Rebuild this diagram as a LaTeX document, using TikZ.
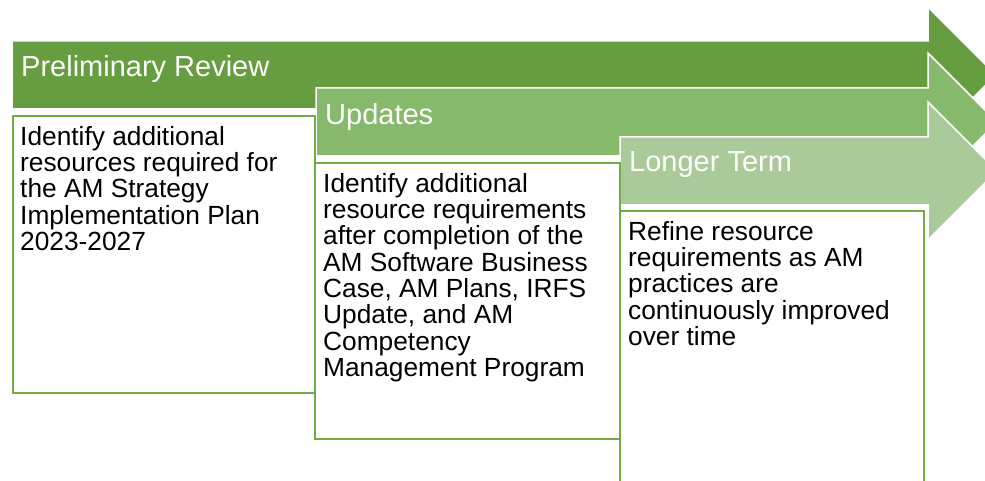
\documentclass[tikz,border=0pt]{standalone}
\usepackage{fontspec}
\setmainfont{Liberation Sans}
\usepackage{xcolor}
\definecolor{stageone}{RGB}{102,157,64}
\definecolor{stagetwo}{RGB}{135,185,108}
\definecolor{stagethree}{RGB}{170,202,153}
\definecolor{boxline}{RGB}{112,173,71}
\usepackage{tikz}
\usetikzlibrary{positioning}
\tikzstyle{arrowshape} = [draw=white, line width=1.5pt, line join=miter]
\tikzstyle{heading} = [anchor=base west, inner sep=0pt, text=white, font=\fontsize{29}{29}\selectfont]
\tikzstyle{frame} = [rectangle, draw=boxline, line width=2pt, fill=white, anchor=north west, inner sep=0pt]
\tikzstyle{bodytext} = [anchor=north west, align=left, inner sep=0pt, font=\fontsize{26.3}{26.3}\selectfont]

\begin{document}
\begin{tikzpicture}[x=1pt, y=-1pt]
    \useasboundingbox (0,0) rectangle (985,481);
    \clip (0,0) rectangle (985,481);

    \path[arrowshape, fill=stageone] (12,41) -- (928,41) -- (928,7) -- (996,75) -- (928,143) -- (928,109) -- (12,109) -- cycle;
    \path[arrowshape, fill=stagetwo] (316,88) -- (928,88) -- (928,53) -- (997,122) -- (928,191) -- (928,156) -- (316,156) -- cycle;
    \path[arrowshape, fill=stagethree] (620,137) -- (928,137) -- (928,102) -- (997,171) -- (928,240) -- (928,205) -- (620,205) -- cycle;

    \node[heading] (prelim) at (21,77) {Preliminary Review};
    \node[heading] (updates) at (325,125) {Updates};
    \node[heading] (longer) at (629,172) {Longer Term};

    \node[frame, minimum width=302pt, minimum height=277pt] (prelimbox) at (12,115) {};
    \node[frame, minimum width=305pt, minimum height=276pt] (updatesbox) at (314,162) {};
    \node[frame, minimum width=304pt, minimum height=290pt] (longerbox) at (619,210) {};

    \node[bodytext] (prelimtext) at ([xshift=8pt, yshift=-11pt]prelimbox.north west) {Identify additional\\resources required for\\the AM Strategy\\Implementation Plan\\2023-2027};
    \node[bodytext] (updatestext) at ([xshift=9pt, yshift=-11pt]updatesbox.north west) {Identify additional\\resource requirements\\after completion of the\\AM Software Business\\Case, AM Plans, IRFS\\Update, and AM\\Competency\\Management Program};
    \node[bodytext] (longertext) at ([xshift=9pt, yshift=-11pt]longerbox.north west) {Refine resource\\requirements as AM\\practices are\\continuously improved\\over time};
\end{tikzpicture}
\end{document}
